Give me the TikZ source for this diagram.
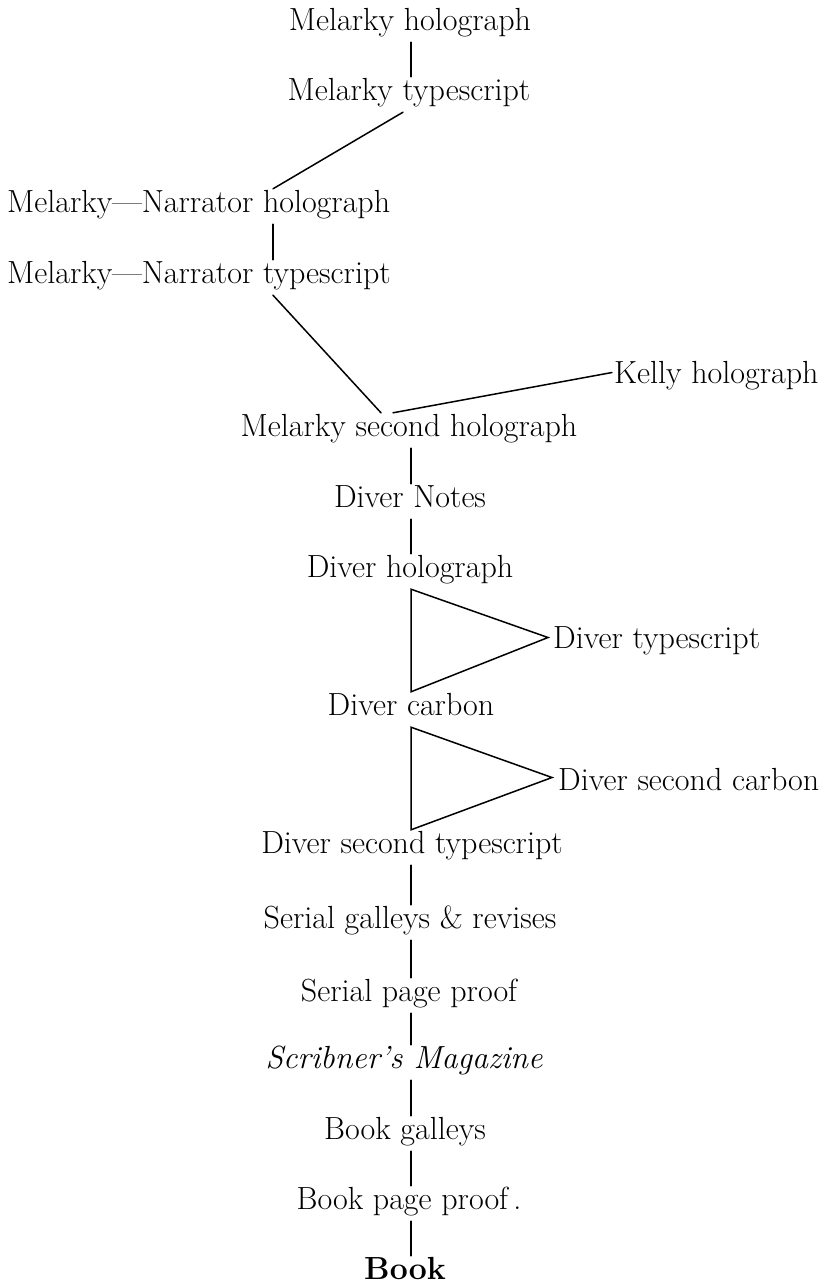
\documentclass[tikz,border=0pt]{standalone}
\usepackage{fontspec}
\usepackage{tikz}

\begin{document}
\begin{tikzpicture}[x=1pt, y=-1pt,
    stage/.style={font=\fontsize{32}{38}\selectfont, anchor=base, inner xsep=0pt, inner ysep=5pt,
      text height=18pt, text depth=7pt},
    link/.style={line width=1.5pt, line cap=round}]
  \useasboundingbox (0,0) rectangle (825,1286);
  % spines for the vertical links
  \coordinate (spine) at (411,0);
  \coordinate (mnspine) at (273,0);
  % melarky drafts
  \node[stage] (mh) at (410,30) {Melarky holograph};
  \node[stage] (mt) at (409,100) {Melarky typescript};
  \node[stage, anchor=base west] (mnh) at (7,212) {Melarky---Narrator holograph};
  \node[stage, anchor=base west] (mnt) at (7,283) {Melarky---Narrator typescript};
  \node[stage, anchor=base west] (kh) at (614,383) {Kelly holograph};
  \node[stage] (msh) at (409,436) {Melarky second holograph};
  % diver drafts
  \node[stage] (dn) at (410,507) {Diver Notes};
  \node[stage] (dh) at (410,577) {Diver holograph};
  \node[stage, anchor=base west] (dt) at (553,648) {Diver typescript};
  \node[stage] (dc) at (411,715) {Diver carbon};
  \node[stage, anchor=base west] (dsc) at (558,790) {Diver second carbon};
  \node[stage] (dst) at (412,853) {Diver second typescript};
  % proofs and print
  \node[stage] (sg) at (410,928) {Serial galleys \& revises};
  \node[stage] (sp) at (409,1001) {Serial page proof};
  \node[stage] (sm) at (404,1068) {\itshape Scribner's Magazine};
  \node[stage] (bg) at (405,1139) {Book galleys};
  \node[stage] (bp) at (409,1209) {Book page proof\,.};
  \node[stage] (bk) at (405,1279) {\bfseries Book};
  % links
  \draw[link] (mh.south -| spine) -- (mt.north -| spine);
  \draw[link] ([xshift=-6pt]mt.south) -- (mnh.north -| mnspine);
  \draw[link] (mnh.south -| mnspine) -- (mnt.north -| mnspine);
  \draw[link] (mnt.south -| mnspine) -- ([xshift=-28pt]msh.north);
  \draw[link] ([xshift=-16pt]msh.north) -- ([shift={(-2pt,5pt)}]kh.west);
  \draw[link] (msh.south -| spine) -- (dn.north -| spine);
  \draw[link] (dn.south -| spine) -- (dh.north -| spine);
  % copies branching off
  \draw[link] (dh.south -| spine) -- ([shift={(-5pt,5pt)}]dt.west) -- (dc.north -| spine) -- cycle;
  \draw[link] (dc.south -| spine) -- ([shift={(-6pt,7pt)}]dsc.west) -- (dst.north -| spine) -- cycle;
  \draw[link] (dst.south -| spine) -- (sg.north -| spine);
  \draw[link] (sg.south -| spine) -- (sp.north -| spine);
  \draw[link] (sp.south -| spine) -- (sm.north -| spine);
  \draw[link] (sm.south -| spine) -- (bg.north -| spine);
  \draw[link] (bg.south -| spine) -- (bp.north -| spine);
  \draw[link] (bp.south -| spine) -- (bk.north -| spine);
\end{tikzpicture}
\end{document}
